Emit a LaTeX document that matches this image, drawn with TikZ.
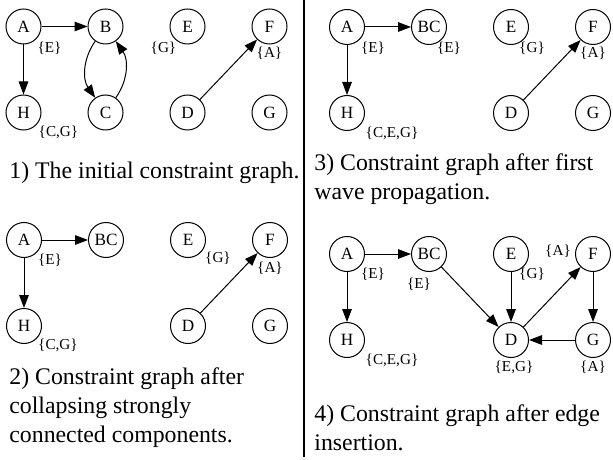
\documentclass[tikz,border=0pt]{standalone}
\usepackage{fontspec}
\setmainfont{Liberation Serif}
\usetikzlibrary{positioning,arrows.meta}

\begin{document}
\begin{tikzpicture}[x=0.5pt, y=-0.5pt, on grid,
  vtx/.style={draw, circle, line width=0.5pt, minimum size=17.5pt, inner sep=0pt, font=\fontsize{8.6}{10}\selectfont},
  lbl/.style={inner sep=0pt, font=\fontsize{7.6}{9}\selectfont},
  capbox/.style={anchor=north west, inner sep=0pt, align=left, font=\fontsize{11.9}{14.6}\selectfont},
  arr/.style={-{Triangle[length=6.5pt,width=4.8pt]}, line width=0.5pt}]
\useasboundingbox (0,0) rectangle (613,459);

% Panel 1
\node[vtx] (A1) at (23.5,26.5) {A};
\node[vtx, right=41pt of A1] (B1) {B};
\node[vtx, right=41pt of B1] (E1) {E};
\node[vtx, right=41pt of E1] (F1) {F};
\node[vtx, below=43pt of A1] (H1) {H};
\node[vtx, below=43pt of B1] (C1) {C};
\node[vtx, below=43pt of E1] (D1) {D};
\node[vtx, below=43pt of F1] (G1) {G};
\node[lbl, below right=11pt and 13pt of A1] (lA1) {\{E\}};
\node[lbl, below left=11pt and 12pt of E1] (lE1) {\{G\}};
\node[lbl, below=13.5pt of F1] (lF1) {\{A\}};
\node[lbl, below right=10pt and 17.5pt of H1] (lH1) {\{C,G\}};
\node[capbox] (cap1) at (9,162) {1) The initial constraint graph.};

\draw[arr] (A1) -- (B1);
\draw[arr] (A1) -- (H1);
\draw[arr] (B1) to[bend right=35] (C1);
\draw[arr] (C1) to[bend right=35] (B1);
\draw[arr] (D1) -- (F1);

% Panel 2
\node[vtx] (A2) at (24,240) {A};
\node[vtx, right=41pt of A2] (BC2) {BC};
\node[vtx, right=41pt of BC2] (E2) {E};
\node[vtx, right=41pt of E2] (F2) {F};
\node[vtx, below=43pt of A2] (H2) {H};
\node[vtx, below=43pt of E2] (D2) {D};
\node[vtx, below=43pt of F2] (G2) {G};
\node[lbl, below right=10pt and 13pt of A2] (lA2) {\{E\}};
\node[lbl, below right=9pt and 15pt of E2] (lE2) {\{G\}};
\node[lbl, below=14pt of F2] (lF2) {\{A\}};
\node[lbl, below right=9.5pt and 17pt of H2] (lH2) {\{C,G\}};
\node[capbox] (cap2) at (9,367) {2) Constraint graph after\\collapsing strongly\\connected components.};

\draw[arr] (A2) -- (BC2);
\draw[arr] (A2) -- (H2);
\draw[arr] (D2) -- (F2);

% Panel 3
\node[vtx] (A3) at (347,27) {A};
\node[vtx, right=41pt of A3] (BC3) {BC};
\node[vtx, right=41pt of BC3] (E3) {E};
\node[vtx, right=41pt of E3] (F3) {F};
\node[vtx, below=43pt of A3] (H3) {H};
\node[vtx, below=43pt of E3] (D3) {D};
\node[vtx, below=43pt of F3] (G3) {G};
\node[lbl, below right=10.5pt and 13pt of A3] (lA3) {\{E\}};
\node[lbl, below right=10.5pt and 10pt of BC3] (lBC3) {\{E\}};
\node[lbl, below right=10.5pt and 10.5pt of E3] (lE3) {\{G\}};
\node[lbl, below=13pt of F3] (lF3) {\{A\}};
\node[lbl, below right=10pt and 22.5pt of H3] (lH3) {\{C,E,G\}};
\node[capbox] (cap3) at (314,153) {3) Constraint graph after first\\wave propagation.};

\draw[arr] (A3) -- (BC3);
\draw[arr] (A3) -- (H3);
\draw[arr] (D3) -- (F3);

% Panel 4
\node[vtx] (A4) at (347,254) {A};
\node[vtx, right=41pt of A4] (BC4) {BC};
\node[vtx, right=41pt of BC4] (E4) {E};
\node[vtx, right=41pt of E4] (F4) {F};
\node[vtx, below=43pt of A4] (H4) {H};
\node[vtx, below=43pt of E4] (D4) {D};
\node[vtx, below=43pt of F4] (G4) {G};
\node[lbl, below right=10pt and 13pt of A4] (lA4) {\{E\}};
\node[lbl, below left=15pt and 5pt of BC4] (lBC4) {\{E\}};
\node[lbl, below right=10pt and 10.5pt of E4] (lE4) {\{G\}};
\node[lbl, above left=1.5pt and 17.5pt of F4] (lF4) {\{A\}};
\node[lbl, below right=10pt and 22.5pt of H4] (lH4) {\{C,E,G\}};
\node[lbl, below right=13.5pt and 1.5pt of D4] (lD4) {\{E,G\}};
\node[lbl, below=13.5pt of G4] (lG4) {\{A\}};
\node[capbox] (cap4) at (314,404) {4) Constraint graph after edge\\insertion.};

\draw[arr] (A4) -- (BC4);
\draw[arr] (A4) -- (H4);
\draw[arr] (BC4) -- (D4);
\draw[arr] (E4) -- (D4);
\draw[arr] (D4) -- (F4);
\draw[arr] (F4) -- (G4);
\draw[arr] (G4) -- (D4);

% Divider
\draw[line width=0.6pt] (304,0) -- (304,457);
\end{tikzpicture}
\end{document}
